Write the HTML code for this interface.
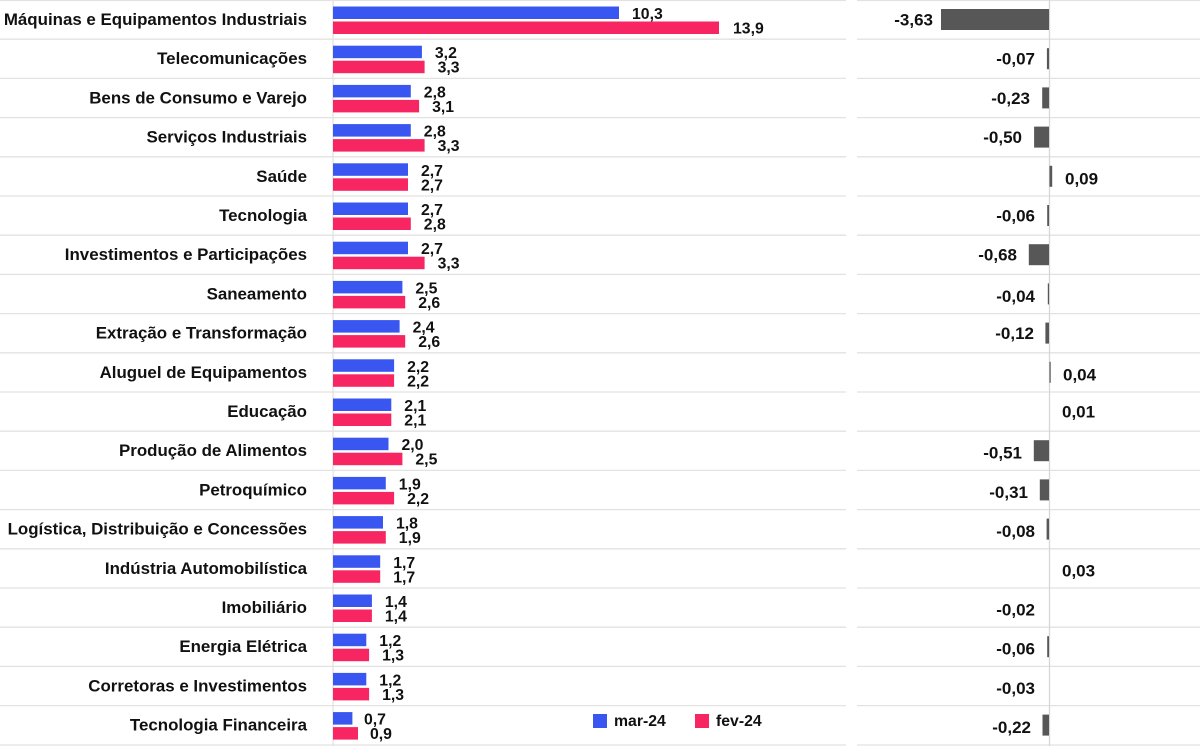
<!DOCTYPE html>
<html><head><meta charset="utf-8"><style>
html,body{margin:0;padding:0;background:#fff;}
svg{display:block;font-family:"Liberation Sans",sans-serif;font-weight:bold;}
.n{font-size:16.9px;fill:#111;text-anchor:end;}
.v{font-size:15.8px;fill:#111;}
.r{font-size:17px;fill:#111;}
.b{fill:#3a56f0;}.p{fill:#f72662;}.g{fill:#575757;}
.s{stroke:#e2e2e2;stroke-width:1.3;}
</style></head><body>
<svg width="1200" height="746" viewBox="0 0 1200 746" xmlns="http://www.w3.org/2000/svg">
<g class="s">
<line x1="0" y1="0.5" x2="846" y2="0.5"/><line x1="857" y1="0.5" x2="1200" y2="0.5"/>
<line x1="0" y1="39.2" x2="846" y2="39.2"/><line x1="857" y1="39.2" x2="1200" y2="39.2"/>
<line x1="0" y1="78.4" x2="846" y2="78.4"/><line x1="857" y1="78.4" x2="1200" y2="78.4"/>
<line x1="0" y1="117.6" x2="846" y2="117.6"/><line x1="857" y1="117.6" x2="1200" y2="117.6"/>
<line x1="0" y1="156.8" x2="846" y2="156.8"/><line x1="857" y1="156.8" x2="1200" y2="156.8"/>
<line x1="0" y1="196" x2="846" y2="196"/><line x1="857" y1="196" x2="1200" y2="196"/>
<line x1="0" y1="235.2" x2="846" y2="235.2"/><line x1="857" y1="235.2" x2="1200" y2="235.2"/>
<line x1="0" y1="274.4" x2="846" y2="274.4"/><line x1="857" y1="274.4" x2="1200" y2="274.4"/>
<line x1="0" y1="313.6" x2="846" y2="313.6"/><line x1="857" y1="313.6" x2="1200" y2="313.6"/>
<line x1="0" y1="352.8" x2="846" y2="352.8"/><line x1="857" y1="352.8" x2="1200" y2="352.8"/>
<line x1="0" y1="392" x2="846" y2="392"/><line x1="857" y1="392" x2="1200" y2="392"/>
<line x1="0" y1="431.2" x2="846" y2="431.2"/><line x1="857" y1="431.2" x2="1200" y2="431.2"/>
<line x1="0" y1="470.4" x2="846" y2="470.4"/><line x1="857" y1="470.4" x2="1200" y2="470.4"/>
<line x1="0" y1="509.6" x2="846" y2="509.6"/><line x1="857" y1="509.6" x2="1200" y2="509.6"/>
<line x1="0" y1="548.8" x2="846" y2="548.8"/><line x1="857" y1="548.8" x2="1200" y2="548.8"/>
<line x1="0" y1="588" x2="846" y2="588"/><line x1="857" y1="588" x2="1200" y2="588"/>
<line x1="0" y1="627.2" x2="846" y2="627.2"/><line x1="857" y1="627.2" x2="1200" y2="627.2"/>
<line x1="0" y1="666.4" x2="846" y2="666.4"/><line x1="857" y1="666.4" x2="1200" y2="666.4"/>
<line x1="0" y1="705.6" x2="846" y2="705.6"/><line x1="857" y1="705.6" x2="1200" y2="705.6"/>
<line x1="0" y1="745" x2="846" y2="745"/><line x1="857" y1="745" x2="1200" y2="745"/>
<line x1="333" y1="0" x2="333" y2="746"/>
<line x1="1049.5" y1="0" x2="1049.5" y2="746" style="stroke:#d6d6d6"/>
</g>

<g transform="translate(0,0)"><text class="n" x="307" y="25">Máquinas e Equipamentos Industriais</text><rect class="b" x="333" y="6.5" width="286" height="12.5"/><rect class="p" x="333" y="21.5" width="386" height="12.5"/><text class="v" x="632" y="19">10,3</text><text class="v" x="733" y="33.5">13,9</text><rect class="g" x="941" y="9" width="108" height="21"/><text class="r" x="933" y="25.5" text-anchor="end">-3,63</text></g>
<g transform="translate(0,39.2)"><text class="n" x="307" y="25">Telecomunicações</text><rect class="b" x="333" y="6.5" width="88.9" height="12.5"/><rect class="p" x="333" y="21.5" width="91.6" height="12.5"/><text class="v" x="434.9" y="19">3,2</text><text class="v" x="437.6" y="33.5">3,3</text><rect class="g" x="1046.9" y="9" width="2.1" height="21"/><text class="r" x="1035" y="25.5" text-anchor="end">-0,07</text></g>
<g transform="translate(0,78.4)"><text class="n" x="307" y="25">Bens de Consumo e Varejo</text><rect class="b" x="333" y="6.5" width="77.8" height="12.5"/><rect class="p" x="333" y="21.5" width="86.1" height="12.5"/><text class="v" x="423.8" y="19">2,8</text><text class="v" x="432.1" y="33.5">3,1</text><rect class="g" x="1042.2" y="9" width="6.8" height="21"/><text class="r" x="1030" y="25.5" text-anchor="end">-0,23</text></g>
<g transform="translate(0,117.6)"><text class="n" x="307" y="25">Serviços Industriais</text><rect class="b" x="333" y="6.5" width="77.8" height="12.5"/><rect class="p" x="333" y="21.5" width="91.6" height="12.5"/><text class="v" x="423.8" y="19">2,8</text><text class="v" x="437.6" y="33.5">3,3</text><rect class="g" x="1034.1" y="9" width="14.9" height="21"/><text class="r" x="1022" y="25.5" text-anchor="end">-0,50</text></g>
<g transform="translate(0,156.8)"><text class="n" x="307" y="25">Saúde</text><rect class="b" x="333" y="6.5" width="75" height="12.5"/><rect class="p" x="333" y="21.5" width="75" height="12.5"/><text class="v" x="421" y="19">2,7</text><text class="v" x="421" y="33.5">2,7</text><rect class="g" x="1049.5" y="9" width="2.7" height="21"/><text class="r" x="1065" y="27.5">0,09</text></g>
<g transform="translate(0,196)"><text class="n" x="307" y="25">Tecnologia</text><rect class="b" x="333" y="6.5" width="75" height="12.5"/><rect class="p" x="333" y="21.5" width="77.8" height="12.5"/><text class="v" x="421" y="19">2,7</text><text class="v" x="423.8" y="33.5">2,8</text><rect class="g" x="1047.2" y="9" width="1.8" height="21"/><text class="r" x="1035" y="25.5" text-anchor="end">-0,06</text></g>
<g transform="translate(0,235.2)"><text class="n" x="307" y="25">Investimentos e Participações</text><rect class="b" x="333" y="6.5" width="75" height="12.5"/><rect class="p" x="333" y="21.5" width="91.6" height="12.5"/><text class="v" x="421" y="19">2,7</text><text class="v" x="437.6" y="33.5">3,3</text><rect class="g" x="1028.8" y="9" width="20.2" height="21"/><text class="r" x="1017" y="25.5" text-anchor="end">-0,68</text></g>
<g transform="translate(0,274.4)"><text class="n" x="307" y="25">Saneamento</text><rect class="b" x="333" y="6.5" width="69.4" height="12.5"/><rect class="p" x="333" y="21.5" width="72.2" height="12.5"/><text class="v" x="415.4" y="19">2,5</text><text class="v" x="418.2" y="33.5">2,6</text><rect class="g" x="1047.8" y="9" width="1.2" height="21"/><text class="r" x="1035" y="27.5" text-anchor="end">-0,04</text></g>
<g transform="translate(0,313.6)"><text class="n" x="307" y="25">Extração e Transformação</text><rect class="b" x="333" y="6.5" width="66.6" height="12.5"/><rect class="p" x="333" y="21.5" width="72.2" height="12.5"/><text class="v" x="412.6" y="19">2,4</text><text class="v" x="418.2" y="33.5">2,6</text><rect class="g" x="1045.4" y="9" width="3.6" height="21"/><text class="r" x="1034" y="25.5" text-anchor="end">-0,12</text></g>
<g transform="translate(0,352.8)"><text class="n" x="307" y="25">Aluguel de Equipamentos</text><rect class="b" x="333" y="6.5" width="61.1" height="12.5"/><rect class="p" x="333" y="21.5" width="61.1" height="12.5"/><text class="v" x="407.1" y="19">2,2</text><text class="v" x="407.1" y="33.5">2,2</text><rect class="g" x="1049.5" y="9" width="1.2" height="21"/><text class="r" x="1063" y="27.5">0,04</text></g>
<g transform="translate(0,392)"><text class="n" x="307" y="25">Educação</text><rect class="b" x="333" y="6.5" width="58.3" height="12.5"/><rect class="p" x="333" y="21.5" width="58.3" height="12.5"/><text class="v" x="404.3" y="19">2,1</text><text class="v" x="404.3" y="33.5">2,1</text><text class="r" x="1062" y="25.5">0,01</text></g>
<g transform="translate(0,431.2)"><text class="n" x="307" y="25">Produção de Alimentos</text><rect class="b" x="333" y="6.5" width="55.5" height="12.5"/><rect class="p" x="333" y="21.5" width="69.4" height="12.5"/><text class="v" x="401.5" y="19">2,0</text><text class="v" x="415.4" y="33.5">2,5</text><rect class="g" x="1033.8" y="9" width="15.2" height="21"/><text class="r" x="1022" y="27.5" text-anchor="end">-0,51</text></g>
<g transform="translate(0,470.4)"><text class="n" x="307" y="25">Petroquímico</text><rect class="b" x="333" y="6.5" width="52.8" height="12.5"/><rect class="p" x="333" y="21.5" width="61.1" height="12.5"/><text class="v" x="398.8" y="19">1,9</text><text class="v" x="407.1" y="33.5">2,2</text><rect class="g" x="1039.8" y="9" width="9.2" height="21"/><text class="r" x="1028" y="27.5" text-anchor="end">-0,31</text></g>
<g transform="translate(0,509.6)"><text class="n" x="307" y="25">Logística, Distribuição e Concessões</text><rect class="b" x="333" y="6.5" width="50" height="12.5"/><rect class="p" x="333" y="21.5" width="52.8" height="12.5"/><text class="v" x="396" y="19">1,8</text><text class="v" x="398.8" y="33.5">1,9</text><rect class="g" x="1046.6" y="9" width="2.4" height="21"/><text class="r" x="1035" y="27.5" text-anchor="end">-0,08</text></g>
<g transform="translate(0,548.8)"><text class="n" x="307" y="25">Indústria Automobilística</text><rect class="b" x="333" y="6.5" width="47.2" height="12.5"/><rect class="p" x="333" y="21.5" width="47.2" height="12.5"/><text class="v" x="393.2" y="19">1,7</text><text class="v" x="393.2" y="33.5">1,7</text><text class="r" x="1062" y="27.5">0,03</text></g>
<g transform="translate(0,588)"><text class="n" x="307" y="25">Imobiliário</text><rect class="b" x="333" y="6.5" width="38.9" height="12.5"/><rect class="p" x="333" y="21.5" width="38.9" height="12.5"/><text class="v" x="384.9" y="19">1,4</text><text class="v" x="384.9" y="33.5">1,4</text><text class="r" x="1035" y="27.5" text-anchor="end">-0,02</text></g>
<g transform="translate(0,627.2)"><text class="n" x="307" y="25">Energia Elétrica</text><rect class="b" x="333" y="6.5" width="33.3" height="12.5"/><rect class="p" x="333" y="21.5" width="36.1" height="12.5"/><text class="v" x="379.3" y="19">1,2</text><text class="v" x="382.1" y="33.5">1,3</text><rect class="g" x="1047.2" y="9" width="1.8" height="21"/><text class="r" x="1035" y="27.5" text-anchor="end">-0,06</text></g>
<g transform="translate(0,666.4)"><text class="n" x="307" y="25">Corretoras e Investimentos</text><rect class="b" x="333" y="6.5" width="33.3" height="12.5"/><rect class="p" x="333" y="21.5" width="36.1" height="12.5"/><text class="v" x="379.3" y="19">1,2</text><text class="v" x="382.1" y="33.5">1,3</text><text class="r" x="1035" y="27.5" text-anchor="end">-0,03</text></g>
<g transform="translate(0,705.6)"><text class="n" x="307" y="25">Tecnologia Financeira</text><rect class="b" x="333" y="6.5" width="19.4" height="12.5"/><rect class="p" x="333" y="21.5" width="25" height="12.5"/><text class="v" x="364" y="19">0,7</text><text class="v" x="370" y="33.5">0,9</text><rect class="g" x="1042.5" y="9" width="6.5" height="21"/><text class="r" x="1031" y="27.5" text-anchor="end">-0,22</text></g>

<rect class="b" x="593" y="714" width="14" height="14"/><text class="v" x="614" y="726">mar-24</text>
<rect class="p" x="695" y="714" width="14" height="14"/><text class="v" x="716" y="726">fev-24</text>
</svg>
</body></html>
